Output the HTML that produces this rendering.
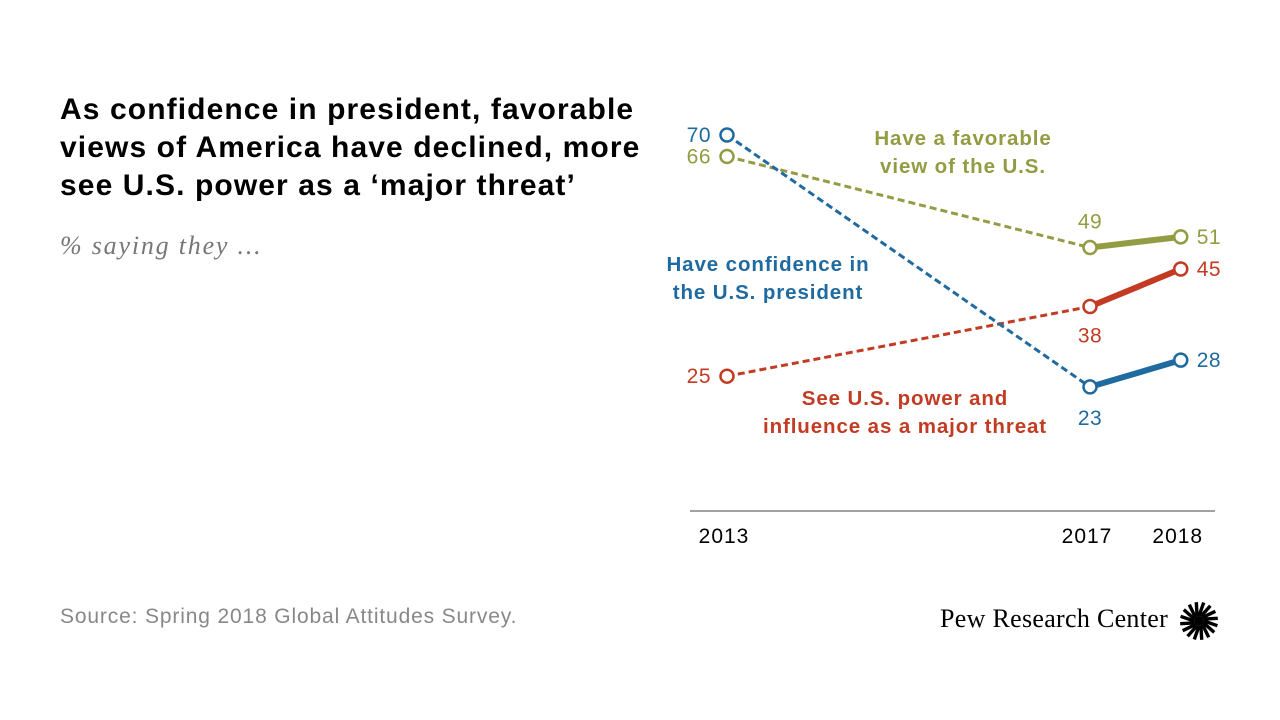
<!DOCTYPE html>
<html><head><meta charset="utf-8">
<style>
body{margin:0;width:1280px;height:720px;background:#fff;overflow:hidden;font-family:"Liberation Sans",sans-serif;position:relative}
.t{position:absolute}
</style></head><body>
<div class="t" style="left:60px;top:91px;font-size:30px;font-weight:bold;line-height:38px;color:#000;letter-spacing:1.1px;white-space:nowrap">As confidence in president, favorable<br>views of America have declined, more<br>see U.S. power as a ‘major threat’</div>
<div class="t" style="left:60px;top:231px;font-family:'Liberation Serif',serif;font-style:italic;font-size:26px;color:#777;letter-spacing:1.8px">% saying they ...</div>
<div class="t" style="left:60px;top:605px;font-size:21px;color:#888;letter-spacing:0.85px">Source: Spring 2018 Global Attitudes Survey.</div>
<div class="t" style="left:940px;top:604px;font-family:'Liberation Serif',serif;font-size:26px;color:#000;letter-spacing:0.3px">Pew Research Center</div>
<svg class="t" style="left:1178px;top:600px" width="42" height="42" viewBox="-21 -21 42 42" id="logo"></svg>
<svg id="chart" class="t" style="left:0;top:0" width="1280" height="720"></svg>
<script>
const years=[2013,2017,2018];
const favorable=[66,49,51];
const confidence=[70,23,28];
const threat=[25,38,45];
const NS="http://www.w3.org/2000/svg";
const svg=document.getElementById('chart');
const x=y=>727+(y-2013)*90.75;
const yv=v=>135+(70-v)*5.36;
function mk(tag,attrs,parent){const e=document.createElementNS(NS,tag);for(const k in attrs)e.setAttribute(k,attrs[k]);(parent||svg).appendChild(e);return e;}
const ax=mk('line',{x1:690,x2:1215,y1:511,y2:511,stroke:'#444','stroke-width':1});


years.forEach(yr=>{const t=mk('text',{x:x(yr)-3,y:543,'text-anchor':'middle','font-size':21,'letter-spacing':1,fill:'#000'});t.textContent=yr;

});
const series=[
{name:'favorable',vals:favorable,color:'#939c43',lab:[[-1,20,7],[0,-19,0],[1,22,7]]},
{name:'threat',vals:threat,color:'#c23b22',lab:[[-1,20,7],[0,36,0],[1,22,7]]},
{name:'confidence',vals:confidence,color:'#1f6a9f',lab:[[-1,20,7],[0,38,0],[1,22,7]]}
];
series.forEach(s=>{
 const p=s.vals.map((v,i)=>[x(years[i]),yv(v)]);
 const d=mk('line',{x1:p[0][0],y1:p[0][1],x2:p[1][0],y2:p[1][1],stroke:s.color,'stroke-width':3,'stroke-dasharray':'7,4'});
 
 
 const l=mk('line',{x1:p[1][0],y1:p[1][1],x2:p[2][0],y2:p[2][1],stroke:s.color,'stroke-width':6});
 
 
 p.forEach((q,i)=>{
  const c=mk('circle',{cx:q[0],cy:q[1],r:6.5,fill:'#fff',stroke:s.color,'stroke-width':2.5});
  
  
  const [side,dy]=s.lab[i];
  const anchor=side<0?'end':side>0?'start':'middle';
  const tx=q[0]+(side<0?-16:side>0?16:0);
  const t=mk('text',{x:tx,y:q[1]+(side===0?dy:7),'text-anchor':anchor,'font-size':21,'letter-spacing':0.5,fill:s.color});
  t.textContent=s.vals[i];
  
  
 });
});
function lbl(lines,cx,y0,color,name){lines.forEach((s,i)=>{const t=mk('text',{x:cx,y:y0+i*28,'text-anchor':'middle','font-size':20.5,'font-weight':'bold','letter-spacing':0.9,fill:color});t.textContent=s;
 
 });}
lbl(['Have a favorable','view of the U.S.'],963,145,'#939c43','favorable-label');
lbl(['Have confidence in','the U.S. president'],768,271,'#1f6a9f','confidence-label');
lbl(['See U.S. power and','influence as a major threat'],905,405,'#c23b22','threat-label');
const lg=document.getElementById('logo');
for(let i=0;i<16;i++){const a=i*Math.PI/8;mk('line',{x1:Math.cos(a)*5,y1:Math.sin(a)*5,x2:Math.cos(a+0.25)*19,y2:Math.sin(a+0.25)*19,stroke:'#000','stroke-width':3.4},lg);}
mk('circle',{cx:0,cy:0,r:5,fill:'#000'},lg);
</script>
</body></html>
